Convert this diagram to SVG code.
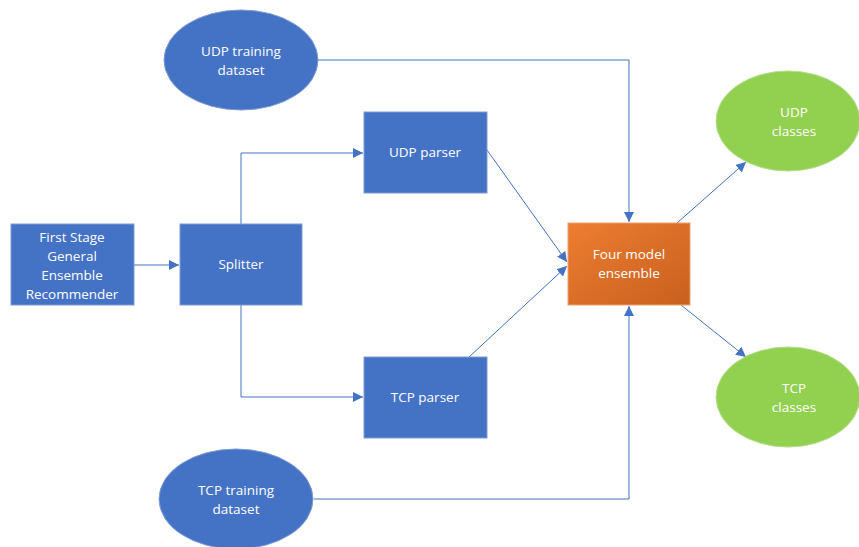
<svg xmlns="http://www.w3.org/2000/svg" width="859" height="547" viewBox="0 0 859 547">
  <style>
    .blue { fill: #4472C4; stroke: #7F9BD3; stroke-width: 1; }
    .green { fill: #92D050; stroke: #B5DE8C; stroke-width: 1; }
    .orange { fill: url(#og); stroke: #F0A070; stroke-width: 1; }
    .label { font-family: "Open Sans", "Liberation Sans", sans-serif; font-size: 13.5px; fill: #FFFFFF; text-anchor: middle; }
    .conn { fill: none; stroke: #4472C4; stroke-width: 1; }
  </style>
  <defs>
    <linearGradient id="og" x1="0" y1="0" x2="1" y2="1">
      <stop offset="0" stop-color="#ED7D31"/>
      <stop offset="1" stop-color="#C8601E"/>
    </linearGradient>
    <marker id="arr" viewBox="0 0 10 10" refX="10" refY="5" markerWidth="10" markerHeight="10" markerUnits="userSpaceOnUse" orient="auto">
      <path d="M0,0 L10,5 L0,10 z" fill="#4472C4"/>
    </marker>
  </defs>

  <g id="connectors">
    <path class="conn" d="M318,60 H629 V222" marker-end="url(#arr)"/>
    <path class="conn" d="M314,499 H629 V306" marker-end="url(#arr)"/>
    <path class="conn" d="M134,265 H179" stroke-width="2" marker-end="url(#arr)"/>
    <path class="conn" d="M241,224 V153 H363" marker-end="url(#arr)"/>
    <path class="conn" d="M241,305 V397 H363" marker-end="url(#arr)"/>
    <path class="conn" d="M487,150 L567,262" marker-end="url(#arr)"/>
    <path class="conn" d="M469,357 L567,266" marker-end="url(#arr)"/>
    <path class="conn" d="M677,223 L746,162" marker-end="url(#arr)"/>
    <path class="conn" d="M681,305 L746,357" marker-end="url(#arr)"/>
  </g>

  <g id="udp-training">
    <ellipse class="blue" cx="241" cy="60" rx="77" ry="50"/>
    <text class="label" x="241" y="56">UDP training</text>
    <text class="label" x="241" y="75">dataset</text>
  </g>

  <g id="tcp-training">
    <ellipse class="blue" cx="236" cy="499" rx="77" ry="50"/>
    <text class="label" x="236" y="495">TCP training</text>
    <text class="label" x="236" y="514">dataset</text>
  </g>

  <g id="first-stage">
    <rect class="blue" x="11" y="224" width="123" height="81"/>
    <text class="label" x="72" y="242">First Stage</text>
    <text class="label" x="72" y="261">General</text>
    <text class="label" x="72" y="280">Ensemble</text>
    <text class="label" x="72" y="299">Recommender</text>
  </g>

  <g id="splitter">
    <rect class="blue" x="180" y="224" width="122" height="81"/>
    <text class="label" x="241" y="269">Splitter</text>
  </g>

  <g id="udp-parser">
    <rect class="blue" x="364" y="112" width="123" height="81"/>
    <text class="label" x="425" y="157">UDP parser</text>
  </g>

  <g id="tcp-parser">
    <rect class="blue" x="364" y="357" width="123" height="81"/>
    <text class="label" x="425" y="402">TCP parser</text>
  </g>

  <g id="four-model">
    <rect class="orange" x="568" y="223" width="122" height="82"/>
    <text class="label" x="629" y="259">Four model</text>
    <text class="label" x="629" y="278">ensemble</text>
  </g>

  <g id="udp-classes">
    <ellipse class="green" cx="788" cy="121" rx="72" ry="50"/>
    <text class="label" x="794" y="117">UDP</text>
    <text class="label" x="794" y="136">classes</text>
  </g>

  <g id="tcp-classes">
    <ellipse class="green" cx="788" cy="397" rx="72" ry="50"/>
    <text class="label" x="794" y="393">TCP</text>
    <text class="label" x="794" y="412">classes</text>
  </g>
</svg>
